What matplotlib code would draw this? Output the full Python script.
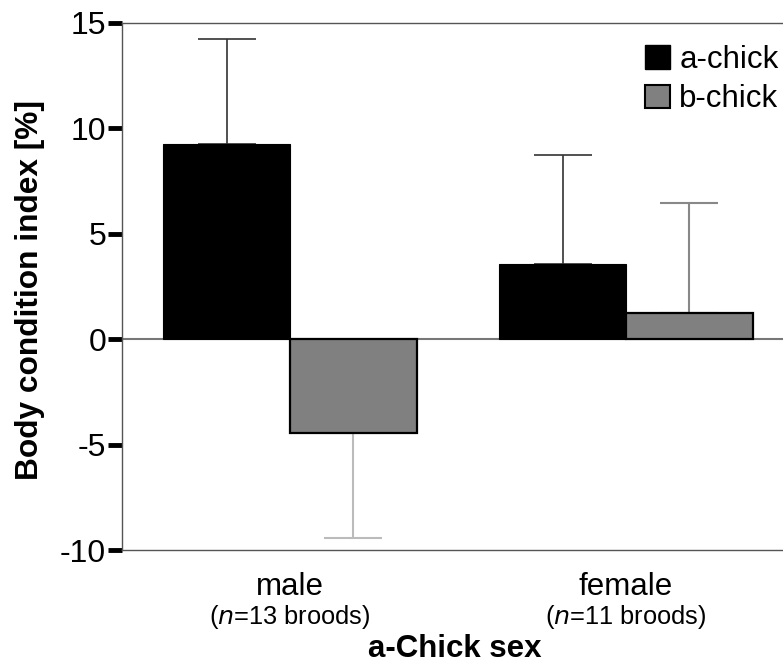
import matplotlib
matplotlib.use("Agg")
import matplotlib.pyplot as plt
from matplotlib.patches import Patch
import numpy as np

plt.rcParams['font.family'] = ['Liberation Sans', 'DejaVu Sans']

groups = ["male", "female"]
group_notes = ["13", "11"]
series = ["a-chick", "b-chick"]
a_vals = [9.25, 3.56]
b_vals = [-4.43, 1.26]
a_err = [4.99, 5.19]
b_err = [5.02, 5.21]
yticks = [-10, -5, 0, 5, 10, 15]

W, H = 783, 664
fig = plt.figure(figsize=(W / 100, H / 100), dpi=100)
ax = fig.add_axes([122 / W, (H - 550) / H, 672 / W, 527 / H])

x = np.arange(len(groups))
bw = 0.377
ax.bar(x - bw / 2, a_vals, bw, color="black", edgecolor="black", linewidth=0.8, zorder=3, label=series[0])
ax.bar(x + bw / 2, b_vals, bw, color="#808080", edgecolor="black", linewidth=1.6, zorder=3, label=series[1])

err_cols_a = ["#333333", "#333333"]
err_cols_b = ["#bbbbbb", "#888888"]
for i in range(len(groups)):
    ax.errorbar(x[i] - bw / 2, a_vals[i], yerr=[[0], [a_err[i]]] if a_vals[i] >= 0 else [[a_err[i]], [0]],
                fmt="none", ecolor=err_cols_a[i], elinewidth=1.2, capsize=21, capthick=1.2, zorder=1)
    ax.errorbar(x[i] + bw / 2, b_vals[i], yerr=[[0], [b_err[i]]] if b_vals[i] >= 0 else [[b_err[i]], [0]],
                fmt="none", ecolor=err_cols_b[i], elinewidth=1.5, capsize=21, capthick=1.5, zorder=1)

ax.axhline(0, color="#777777", linewidth=1.5, zorder=2)

ax.set_xlim(-0.5, 1.5)
ax.set_ylim(-10, 15)
ax.set_yticks(yticks)
ax.set_yticklabels([str(v) for v in yticks], fontsize=23)
ax.tick_params(axis="y", length=10, width=3.5, color="black", pad=1.5)
ax.set_xticks(x)
ax.set_xticklabels(groups, fontsize=22.5)
ax.tick_params(axis="x", length=0, pad=16)

for s in ["left", "top", "bottom"]:
    ax.spines[s].set_color("#555555")
    ax.spines[s].set_linewidth(1.0)
ax.spines["right"].set_visible(False)

for i in range(len(groups)):
    ax.text(x[i], -0.127, "($\\it{n}$=" + group_notes[i] + " broods)", transform=ax.get_xaxis_transform(),
            ha="center", va="center", fontsize=18.3)

fig.text(455 / W, 1 - 649 / H, "a-Chick sex", ha="center", va="center", fontsize=22.5, fontweight="bold")
fig.text(30 / W, 1 - 290 / H, "Body condition index [%]", ha="center", va="center", rotation=90,
         fontsize=22.8, fontweight="bold")

handles = [Patch(facecolor="black", edgecolor="black"), Patch(facecolor="#808080", edgecolor="black", linewidth=1.5)]
fig.legend(handles, series, loc="upper left", bbox_to_anchor=(645 / W, 1 - 45 / H), frameon=False,
           fontsize=22.5, borderpad=0, borderaxespad=0, handlelength=0.8, handleheight=0.8,
           handletextpad=0.3, labelspacing=0.3)

fig.savefig("out.png", dpi=100)
